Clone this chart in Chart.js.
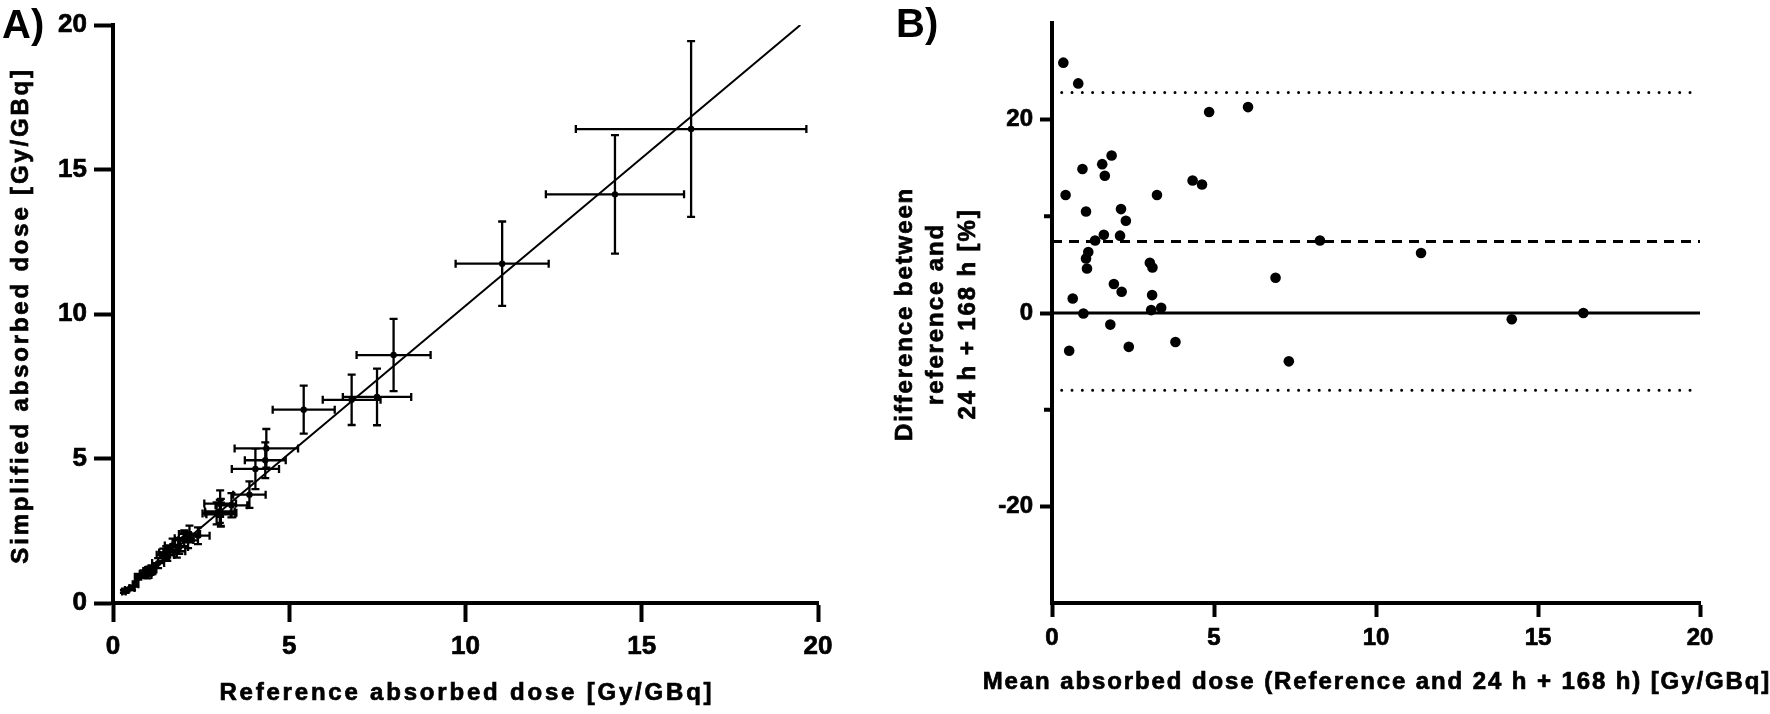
<!DOCTYPE html>
<html>
<head>
<meta charset="utf-8">
<title>Reference vs simplified absorbed dose</title>
<script src="https://cdn.jsdelivr.net/npm/chart.js@4.4.1/dist/chart.umd.min.js"></script>
<style>
body { margin: 0; background: #fff; }
#wrap { position: relative; width: 1770px; height: 714px; }
canvas { position: absolute; top: 0; }
#chartA { left: 0; }
#chartB { left: 885px; }
</style>
</head>
<body>
<div id="wrap">
<canvas id="chartA" width="885" height="714"></canvas>
<canvas id="chartB" width="885" height="714"></canvas>
</div>
<script>
var FONT = '"Liberation Sans", Arial, sans-serif';

// panel A - reference vs simplified (24 h + 168 h) absorbed dose, Gy/GBq
var refDose  = [0.31, 0.71, 4.35, 5.41, 1.69, 1.43, 0.87, 1.51, 4.04, 4.32, 0.39, 3.04, 0.99, 2.02, 2.17, 1.54, 2.02, 1.28, 1.09, 1.02,
                1.06, 2.94, 3.03, 1.88, 2.13, 0.64, 3.06, 3.06, 3.36, 0.97, 1.81, 0.54, 2.41, 3.87, 7.96, 11.04, 6.77, 7.49, 14.24, 16.40];
var simpDose = [0.40, 0.91, 5.35, 6.69, 1.99, 1.67, 1.01, 1.75, 4.64, 4.94, 0.45, 3.44, 1.11, 2.24, 2.39, 1.66, 2.18, 1.38, 1.16, 1.08,
                1.10, 3.10, 3.17, 1.94, 2.17, 0.65, 3.12, 3.07, 3.38, 0.97, 1.79, 0.52, 2.33, 3.75, 8.58, 11.74, 7.03, 7.13, 14.14, 16.40];
var refErr   = [0.05, 0.09, 0.90, 0.88, 0.22, 0.19, 0.11, 0.20, 0.67, 0.58, 0.05, 0.45, 0.13, 0.27, 0.30, 0.20, 0.26, 0.17, 0.14, 0.13,
                0.14, 0.40, 0.42, 0.25, 0.28, 0.08, 0.44, 0.41, 0.45, 0.12, 0.24, 0.07, 0.33, 0.46, 1.05, 1.32, 0.82, 0.97, 1.96, 3.27];
var simpErr  = [0.05, 0.10, 0.67, 0.83, 0.24, 0.21, 0.12, 0.22, 0.70, 0.62, 0.05, 0.46, 0.13, 0.27, 0.29, 0.20, 0.25, 0.17, 0.14, 0.13,
                0.13, 0.38, 0.40, 0.24, 0.27, 0.08, 0.48, 0.40, 0.42, 0.12, 0.22, 0.07, 0.29, 0.46, 1.25, 1.46, 0.87, 0.98, 2.05, 3.04];
var fitX = [0.3, 19.5];
var fitY = [0.36, 20.0];

// panel B - Bland-Altman, mean dose vs difference in %
var meanDose = [0.35, 0.81, 4.85, 6.05, 1.84, 1.55, 0.94, 1.63, 4.34, 4.63, 0.42, 3.24, 1.05, 2.13, 2.28, 1.60, 2.10, 1.33, 1.12, 1.05,
                1.08, 3.02, 3.10, 1.91, 2.15, 0.64, 3.09, 3.06, 3.37, 0.97, 1.80, 0.53, 2.37, 3.81, 8.27, 11.39, 6.90, 7.31, 14.19, 16.40];
var diffPct  = [25.9, 23.75, 20.8, 21.3, 16.3, 15.4, 14.9, 14.2, 13.7, 13.3, 12.2, 12.2, 10.5, 10.75, 9.55, 8.1, 8.0, 7.5, 6.3, 5.65,
                4.6, 5.2, 4.7, 3.0, 2.2, 1.5, 1.85, 0.3, 0.55, -0.05, -1.2, -3.9, -3.5, -3.0, 7.5, 6.2, 3.65, -5.0, -0.65, 0.0];
var biasPct = 7.4;
var upperLoA = 22.8;
var lowerLoA = -8.0;
var lineX = [0, 20];
var loaX = [0.3, 20];
var labelledTicksB = [20, 0, -20];
var minorTicksB = [10, -10];

var titleXA = 'Reference absorbed dose [Gy/GBq]';
var titleYA = ['Simplified absorbed dose [Gy/GBq]'];
var titleXB = 'Mean absorbed dose (Reference and 24 h + 168 h) [Gy/GBq]';
var titleYB = ['Difference between', 'reference and', '24 h + 168 h [%]'];

var toPoints = function (xs, ys) {
    var out = [];
    for (var i = 0; i < xs.length; i++) out.push({x: xs[i], y: ys[i]});
    return out;
};

// error bars drawn with the chart's own scales
var errorBars = {
    id: 'errorBars',
    afterDatasetsDraw: function (chart, args, o) {
        if (!o.xErr) return;
        var ctx = chart.ctx, xs = chart.scales.x, ys = chart.scales.y;
        var pts = chart.data.datasets[0].data;
        var c = o.cap;
        ctx.save();
        ctx.strokeStyle = '#000';
        ctx.lineWidth = o.width;
        ctx.beginPath();
        for (var i = 0; i < pts.length; i++) {
            var px = xs.getPixelForValue(pts[i].x), py = ys.getPixelForValue(pts[i].y);
            var x1 = xs.getPixelForValue(pts[i].x - o.xErr[i]), x2 = xs.getPixelForValue(pts[i].x + o.xErr[i]);
            var y1 = ys.getPixelForValue(pts[i].y - o.yErr[i]), y2 = ys.getPixelForValue(pts[i].y + o.yErr[i]);
            ctx.moveTo(x1, py); ctx.lineTo(x2, py);
            ctx.moveTo(x1, py - c); ctx.lineTo(x1, py + c);
            ctx.moveTo(x2, py - c); ctx.lineTo(x2, py + c);
            ctx.moveTo(px, y1); ctx.lineTo(px, y2);
            ctx.moveTo(px - c, y1); ctx.lineTo(px + c, y1);
            ctx.moveTo(px - c, y2); ctx.lineTo(px + c, y2);
        }
        ctx.stroke();
        ctx.restore();
    }
};

// axis titles (letter spaced), panel letter and short minor ticks
var panelText = {
    id: 'panelText',
    afterDraw: function (chart, args, o) {
        var ctx = chart.ctx, a = chart.chartArea;
        ctx.save();
        ctx.fillStyle = '#000';
        ctx.strokeStyle = '#000';
        if (o.minor) {
            ctx.lineWidth = 4;
            ctx.beginPath();
            for (var m = 0; m < o.minor.length; m++) {
                var my = chart.scales.y.getPixelForValue(o.minor[m]);
                ctx.moveTo(a.left - o.minorLen, my);
                ctx.lineTo(a.left, my);
            }
            ctx.stroke();
        }
        ctx.font = 'bold ' + o.size + 'px ' + FONT;
        ctx.letterSpacing = o.spacing + 'px';
        ctx.lineWidth = 0.7;
        ctx.textAlign = 'center';
        ctx.textBaseline = 'middle';
        var tx = (a.left + a.right) / 2 + o.spacing / 2;
        ctx.fillText(o.xTitle, tx, o.xTitleY);
        ctx.strokeText(o.xTitle, tx, o.xTitleY);
        ctx.save();
        ctx.translate(o.yTitleX, (a.top + a.bottom) / 2 + o.spacing / 2);
        ctx.rotate(-Math.PI / 2);
        for (var i = 0; i < o.yTitle.length; i++) {
            ctx.fillText(o.yTitle[i], 0, i * o.lineGap);
            ctx.strokeText(o.yTitle[i], 0, i * o.lineGap);
        }
        ctx.restore();
        ctx.letterSpacing = '0px';
        ctx.font = 'bold 40px ' + FONT;
        ctx.textAlign = 'left';
        ctx.textBaseline = 'alphabetic';
        ctx.fillText(o.panel, o.panelX, o.panelY);
        ctx.restore();
    }
};

var axisStyle = function (size, pad, tickLen, fitFn) {
    return {
        type: 'linear',
        ticks: {
            color: '#000', font: { family: FONT, size: size, weight: 'bold' }, padding: pad, maxRotation: 0,
            textStrokeColor: '#000', textStrokeWidth: 0.7
        },
        grid: { drawOnChartArea: false, drawTicks: true, tickLength: tickLen, tickWidth: 4, tickColor: '#000' },
        border: { display: true, color: '#000', width: 4 },
        afterFit: fitFn
    };
};

// ---- panel A
var xA = axisStyle(26, 9, 19, function (s) { s.height = 111; });
xA.min = 0; xA.max = 20; xA.ticks.stepSize = 5;
var yA = axisStyle(26, 7, 19, function (s) { s.width = 113; });
yA.min = 0; yA.max = 20; yA.ticks.stepSize = 5;

new Chart('chartA', {
    type: 'scatter',
    data: {
        datasets: [
            {
                data: toPoints(refDose, simpDose),
                pointRadius: 3.2,
                backgroundColor: '#000',
                borderWidth: 0
            },
            {
                data: toPoints(fitX, fitY),
                showLine: true,
                pointRadius: 0,
                borderColor: '#000',
                borderWidth: 2
            }
        ]
    },
    options: {
        responsive: false,
        animation: false,
        layout: { padding: { left: 0, right: 67, top: 25, bottom: 0 } },
        scales: { x: xA, y: yA },
        plugins: {
            legend: { display: false },
            tooltip: { enabled: false },
            errorBars: { xErr: refErr, yErr: simpErr, cap: 4, width: 2.3 },
            panelText: {
                xTitle: titleXA, yTitle: titleYA, size: 24, spacing: 2.8,
                xTitleY: 693, yTitleX: 21, lineGap: 31.5,
                panel: 'A)', panelX: 2, panelY: 38
            }
        }
    },
    plugins: [errorBars, panelText]
});

// ---- panel B
var xB = axisStyle(24, 7, 14, function (s) { s.height = 111; });
xB.min = 0; xB.max = 20; xB.ticks.stepSize = 5;
var yB = axisStyle(24, 7, 12, function (s) { s.width = 167; });
yB.min = -30; yB.max = 30; yB.ticks.stepSize = 10;
yB.ticks.callback = function (v) { return labelledTicksB.indexOf(v) >= 0 ? String(v) : ''; };
yB.grid.tickColor = function (c) { return c.tick && labelledTicksB.indexOf(c.tick.value) >= 0 ? '#000' : 'rgba(0,0,0,0)'; };

new Chart('chartB', {
    type: 'scatter',
    data: {
        datasets: [
            {
                data: toPoints(meanDose, diffPct),
                pointRadius: 5.3,
                backgroundColor: '#000',
                borderWidth: 0
            },
            {
                data: toPoints(lineX, [0, 0]),
                showLine: true, pointRadius: 0,
                borderColor: '#000', borderWidth: 3
            },
            {
                data: toPoints(lineX, [biasPct, biasPct]),
                showLine: true, pointRadius: 0,
                borderColor: '#000', borderWidth: 3, borderDash: [10, 7]
            },
            {
                data: toPoints(loaX, [upperLoA, upperLoA]),
                showLine: true, pointRadius: 0,
                borderColor: '#000', borderWidth: 3, borderDash: [0, 10.3], borderCapStyle: 'round'
            },
            {
                data: toPoints(loaX, [lowerLoA, lowerLoA]),
                showLine: true, pointRadius: 0,
                borderColor: '#000', borderWidth: 3, borderDash: [0, 10.3], borderCapStyle: 'round'
            }
        ]
    },
    options: {
        responsive: false,
        animation: false,
        layout: { padding: { left: 0, right: 70, top: 23, bottom: 0 } },
        scales: { x: xB, y: yB },
        plugins: {
            legend: { display: false },
            tooltip: { enabled: false },
            panelText: {
                xTitle: titleXB, yTitle: titleYB, size: 24, spacing: 1.9,
                xTitleY: 682, yTitleX: 20, lineGap: 31.5,
                panel: 'B)', panelX: 11, panelY: 37,
                minor: minorTicksB, minorLen: 8
            }
        }
    },
    plugins: [panelText]
});
</script>
</body>
</html>
